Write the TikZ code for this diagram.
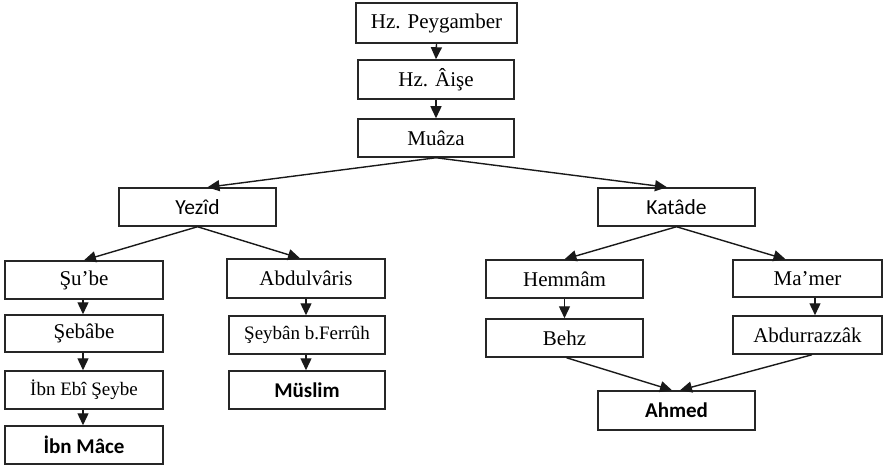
\documentclass[tikz,border=0pt]{standalone}
\usepackage{fontspec}
\setmainfont{Liberation Serif}
\newfontfamily\calfont{Carlito}
\usetikzlibrary{arrows.meta}
\begin{document}
\begin{tikzpicture}[x=1pt,y=-1pt,
  box/.style={draw=black!85,line width=1.5pt,rectangle,inner sep=0pt,minimum width=157pt,minimum height=38pt,font=\fontsize{21}{23}\selectfont},
  sbox/.style={box,font=\calfont\fontsize{21.5}{23}\selectfont},
  bbox/.style={box,font=\calfont\bfseries\fontsize{21}{23}\selectfont},
  smallbox/.style={box,font=\fontsize{19}{21}\selectfont},
  arr/.style={draw=black!90,line width=1.4pt,-{Triangle[length=12pt,width=11pt]}}]
\useasboundingbox (0,0) rectangle (883,470);
\node[box,minimum width=161pt,minimum height=40pt] (pey) at (436.5,23) {Hz. Peygamber};
\node[box,minimum width=156pt,minimum height=39pt] (aise) at (436,79.5) {Hz. Âişe};
\node[box,minimum width=156pt] (muaza) at (436,138) {Muâza};
\node[sbox] (yezid) at (197.5,207) {Yezîd};
\node[sbox] (katade) at (676.5,207) {Katâde};
\node[box,minimum width=158pt] (sube) at (84,280) {Şu’be};
\node[box,minimum width=158pt,minimum height=37pt] (sebabe) at (84,333.5) {Şebâbe};
\node[smallbox,minimum width=158pt] (ibnebi) at (84,390) {İbn Ebî Şeybe};
\node[bbox,minimum width=158pt] (ibnmace) at (84,445) {İbn Mâce};
\node[box,minimum width=158pt,minimum height=39pt] (abdulvaris) at (306,278.5) {Abdulvâris};
\node[smallbox,minimum width=156pt] (seyban) at (307,335) {Şeybân b.Ferrûh};
\node[bbox,minimum width=156pt] (muslim) at (307,390) {Müslim};
\node[box] (hemmam) at (564.5,279) {Hemmâm};
\node[box] (behz) at (564.5,338) {Behz};
\node[box,minimum width=149pt,minimum height=37pt] (mamer) at (807.5,278.5) {Ma’mer};
\node[box,minimum width=149pt] (abdurrazzak) at (807.5,335) {Abdurrazzâk};
\node[bbox,minimum height=39pt] (ahmed) at (676.5,410.5) {Ahmed};
\draw[arr] (pey.south) -- (aise.north);
\draw[arr] (aise.south) -- (muaza.north);
\draw[arr] (muaza.south) -- ([xshift=10pt]yezid.north);
\draw[arr] (muaza.south) -- ([xshift=-9.5pt]katade.north);
\draw[arr] (yezid.south) -- (sube.north);
\draw[arr] (yezid.south) -- ([xshift=-6pt]abdulvaris.north);
\draw[arr] ([xshift=-1pt]sube.south) -- ([xshift=-1pt]sebabe.north);
\draw[arr] ([xshift=-1pt]sebabe.south) -- ([xshift=-1pt]ibnebi.north);
\draw[arr] ([xshift=-1pt]ibnebi.south) -- ([xshift=-1pt]ibnmace.north);
\draw[arr] (abdulvaris.south) -- ([xshift=-1pt]seyban.north);
\draw[arr] ([xshift=-1pt]seyban.south) -- ([xshift=-1pt]muslim.north);
\draw[arr] (katade.south) -- (hemmam.north);
\draw[arr] (katade.south) -- ([xshift=-22pt]mamer.north);
\draw[arr] (hemmam.south) -- (behz.north);
\draw[arr] ([xshift=7.5pt]mamer.south) -- ([xshift=7.5pt]abdurrazzak.north);
\draw[arr] ([xshift=2pt]behz.south) -- ([xshift=-4.5pt]ahmed.north);
\draw[arr] ([xshift=4.5pt]abdurrazzak.south) -- ([xshift=3.5pt]ahmed.north);
\end{tikzpicture}
\end{document}
